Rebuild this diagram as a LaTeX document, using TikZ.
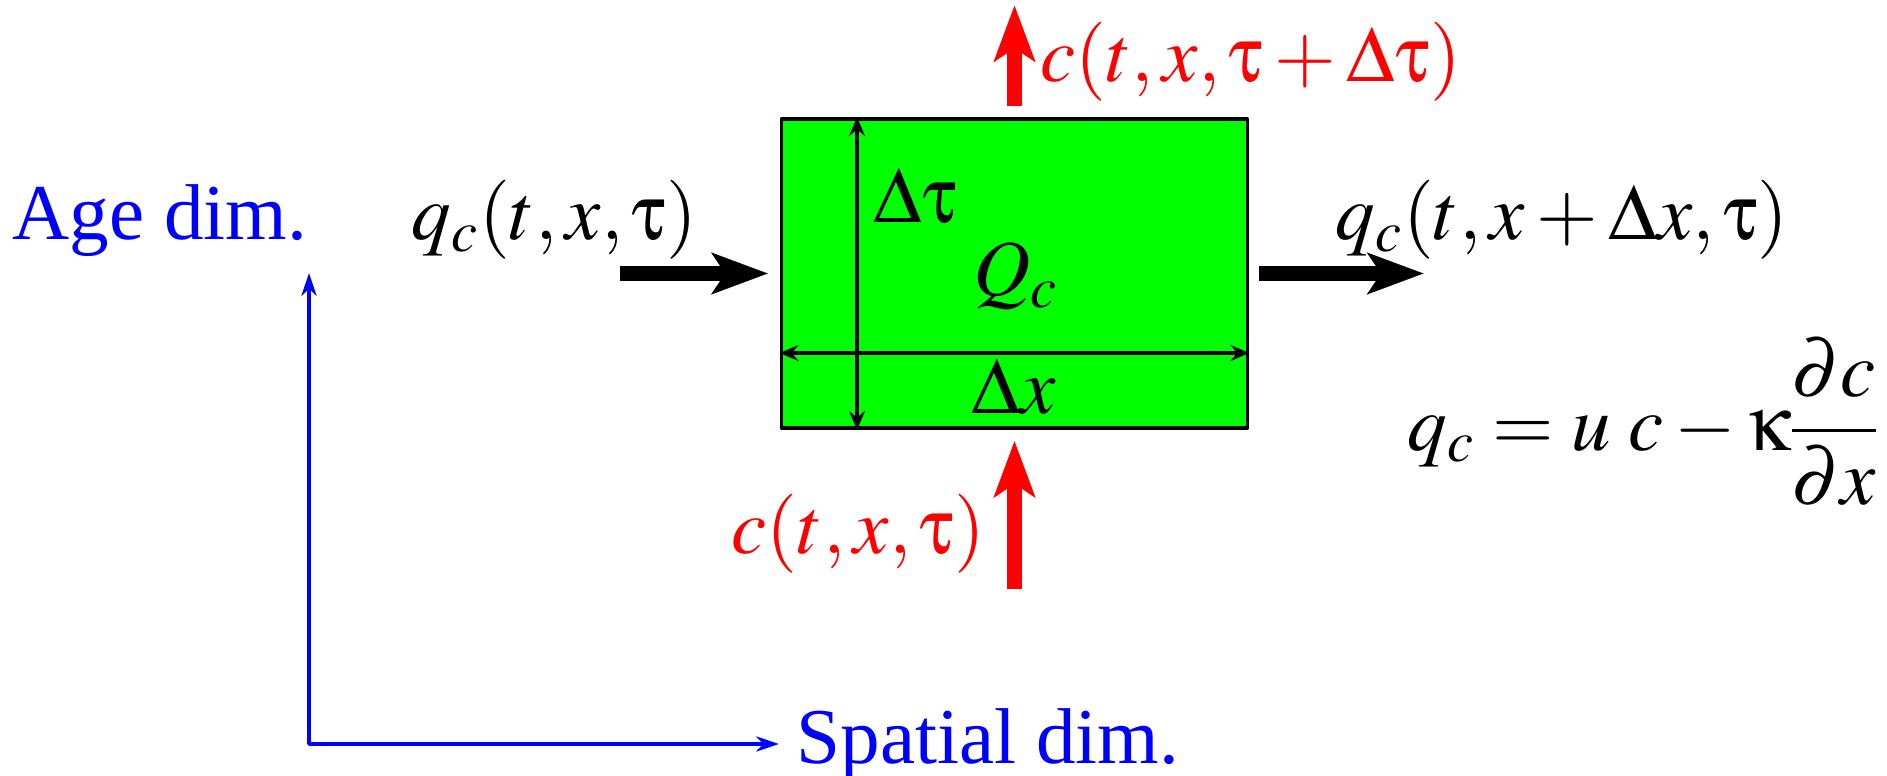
\documentclass[tikz,border=0pt]{standalone}
\usepackage{amsmath}
\usepackage{mathptmx}
\usepackage[Symbol]{upgreek}
\usepackage[no-math]{fontspec}
\setmainfont{Liberation Serif}
\usepackage{xcolor}
\usetikzlibrary{arrows.meta,calc}
\definecolor{cellgreen}{RGB}{0,255,0}

\begin{document}
\begin{tikzpicture}[x=0.01cm,y=-0.01cm,line join=round,
  lbl/.style={inner sep=0pt,font=\fontsize{22.5}{27}\selectfont},
  flow/.style={line width=4.4pt,-{Stealth[length=15.9pt,width=11.5pt,inset=3.7pt]}},
  dimarrow/.style={line width=0.9pt,{Stealth[length=5.4pt,width=4.6pt,inset=2pt]}-{Stealth[length=5.4pt,width=4.6pt,inset=2pt]}},
  axisarrow/.style={blue,line width=1pt,{Stealth[length=6.5pt,width=4.3pt,inset=2pt]}-{Stealth[length=6.5pt,width=4.3pt,inset=2pt]}}]
  \useasboundingbox (0,0) rectangle (1887,776);
  % control volume
  \node[draw,line width=0.95pt,fill=cellgreen,inner sep=0pt,
    minimum width=4.66cm,minimum height=3.09cm] (cell) at (1014.5,273.5) {};
  \coordinate (cross) at (857,353);
  \draw[dimarrow] (cross |- cell.north) -- (cross |- cell.south);
  \draw[dimarrow] (cross -| cell.west) -- (cross -| cell.east);
  \node[lbl,anchor=base west] (dtau) at (873,222) {$\Delta\uptau$};
  \node[lbl,anchor=base west] (Qc) at (973,296) {$Q_c$};
  \node[lbl,anchor=base west] (dx) at (971,413) {$\Delta x$};
  % fluxes
  \draw[flow] ([xshift=-1.595cm]cell.west) -- ([xshift=-0.115cm]cell.west);
  \draw[flow] ([xshift=0.095cm]cell.east) -- ([xshift=1.745cm]cell.east);
  \draw[flow,red] ([yshift=0.11cm]cell.north) -- ([yshift=1.12cm]cell.north);
  \draw[flow,red] ([yshift=-1.59cm]cell.south) -- ([yshift=-0.11cm]cell.south);
  \node[lbl,anchor=base west] (qin) at (411,240) {$q_c(t,x,\uptau)$};
  \node[lbl,anchor=base west] (qout) at (1335,240) {$q_c(t,x+\Delta x,\uptau)$};
  \node[lbl,anchor=base west,red] (ctop) at (1040,82) {$c(t,x,\uptau+\Delta\uptau)$};
  \node[lbl,anchor=base east,red] (cbot) at (986,553) {$c(t,x,\uptau)$};
  \node[lbl,anchor=base west] (flux) at (1407,450)
    {\nulldelimiterspace=0pt $q_c = u\;c - \upkappa\dfrac{\partial c}{\partial x}$};
  % axes
  \node[lbl,anchor=base west,blue] (agedim) at (12,240) {Age dim.};
  \node[lbl,anchor=base west,blue] (spacedim) at (796,763) {Spatial dim.};
  \coordinate (agetip) at (309,273);
  \coordinate (spacetip) at (779,744);
  \draw[axisarrow] (agetip) |- (spacetip);
\end{tikzpicture}
\end{document}
